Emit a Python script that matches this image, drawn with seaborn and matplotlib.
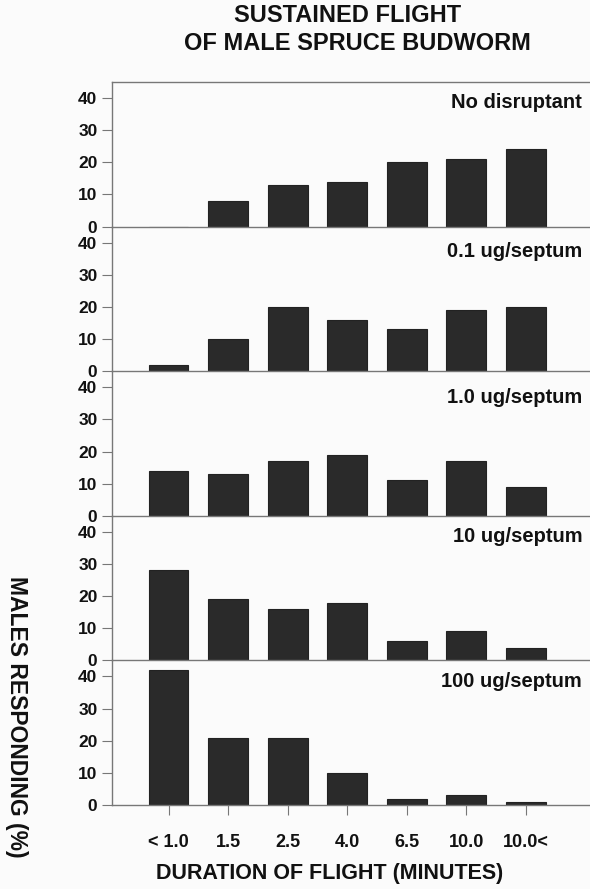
import matplotlib
matplotlib.use("Agg")
import matplotlib.pyplot as plt
import seaborn as sns
import pandas as pd

categories = ["< 1.0", "1.5", "2.5", "4.0", "6.5", "10.0", "10.0<"]
panel_labels = ["No disruptant", "0.1 ug/septum", "1.0 ug/septum", "10 ug/septum", "100 ug/septum"]
no_disruptant = [0, 8, 13, 14, 20, 21, 24]
ug_0_1 = [2, 10, 20, 16, 13, 19, 20]
ug_1_0 = [14, 13, 17, 19, 11, 17, 9]
ug_10 = [28, 19, 16, 18, 6, 9, 4]
ug_100 = [42, 21, 21, 10, 2, 3, 1]
yticks = [0, 10, 20, 30, 40]

series = [no_disruptant, ug_0_1, ug_1_0, ug_10, ug_100]

sns.set_theme(style="white")
plt.rcParams['font.family'] = ['Liberation Sans', 'DejaVu Sans']
plt.rcParams['font.weight'] = 'bold'
plt.rcParams['text.color'] = '#111111'
plt.rcParams['xtick.labelcolor'] = '#111111'
plt.rcParams['ytick.labelcolor'] = '#111111'

fig = plt.figure(figsize=(5.9, 8.89), dpi=100)
fig.patch.set_facecolor("#fbfbfb")
left, right = 112 / 590, 0.999
top, bottom = 1 - 82 / 889, 1 - 805 / 889
h = (top - bottom) / 5

label_y = [0.86, 0.83, 0.82, 0.855, 0.855]
spine_col = "#777777"
for i, (vals, lab) in enumerate(zip(series, panel_labels)):
    ax = fig.add_axes([left, top - (i + 1) * h, right - left, h])
    ax.set_facecolor("none")
    df = pd.DataFrame({"dur": categories, "pct": vals})
    sns.barplot(data=df, x="dur", y="pct", ax=ax, color="#2a2a2a",
                saturation=1, width=0.67, edgecolor="#222222", linewidth=0.8)
    ax.set_xlim(-0.95, 7.07)
    ax.set_ylim(0, 45)
    ax.set_yticks(yticks)
    ax.set_yticklabels([str(t) for t in yticks], fontsize=12.5, fontweight="bold")
    ax.set_xlabel("")
    ax.set_ylabel("")
    for s in ["left", "bottom", "top", "right"]:
        ax.spines[s].set_color(spine_col)
        ax.spines[s].set_linewidth(1.0)
    ax.spines["right"].set_visible(False)
    ax.spines["top"].set_visible(i == 0)
    ax.tick_params(axis="y", left=True, direction="out", length=7, width=0.8,
                   color=spine_col, pad=3.5)
    if i < 4:
        ax.set_xticks([])
    else:
        ax.tick_params(axis="x", bottom=True, direction="out", length=7, width=0.8,
                       color=spine_col, pad=14)
        ax.set_xticklabels(categories, fontsize=13, fontweight="bold")
    ax.text(0.985, label_y[i], lab, transform=ax.transAxes, ha="right", va="center",
            fontsize=14.5, fontweight="bold")

fig.text(348 / 590, 1 - 16 / 889, "SUSTAINED FLIGHT", ha="center", va="center",
         fontsize=17, fontweight="bold")
fig.text(357 / 590, 1 - 44 / 889, "OF MALE SPRUCE BUDWORM", ha="center", va="center",
         fontsize=17, fontweight="bold")
fig.text(330 / 590, 1 - 874 / 889, "DURATION OF FLIGHT (MINUTES)", ha="center", va="center",
         fontsize=15.5, fontweight="bold")
fig.text(16 / 590, 1 - 717 / 889, "MALES RESPONDING (%)", ha="center", va="center",
         rotation=-90, fontsize=16.5, fontweight="bold")

fig.savefig("out.png", dpi=100, facecolor=fig.get_facecolor())
